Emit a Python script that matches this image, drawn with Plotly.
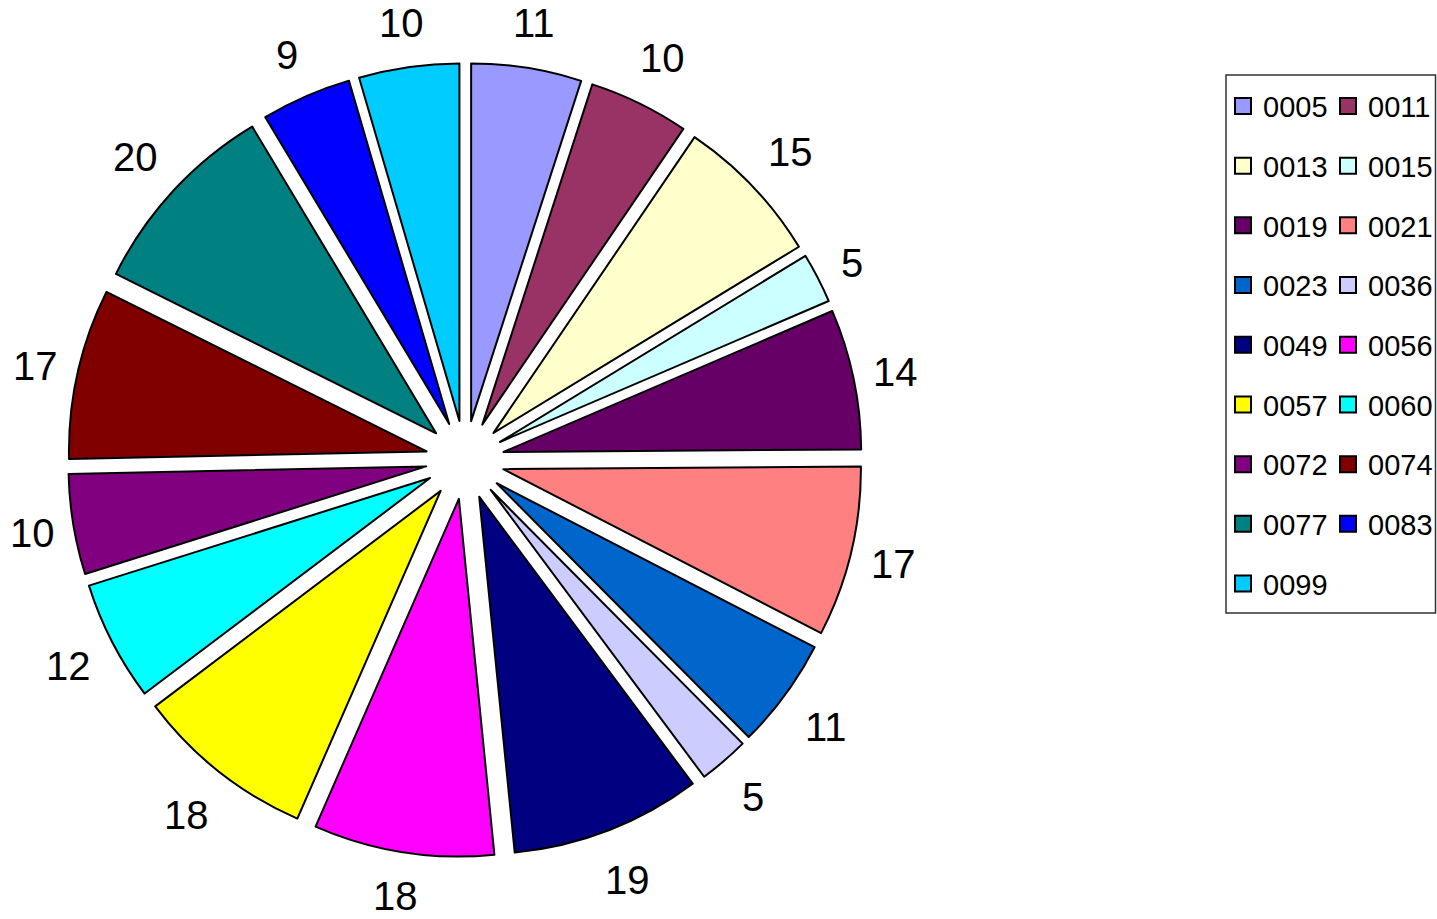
import math
import plotly.graph_objects as go

categories = ["0005", "0011", "0013", "0015", "0019", "0021", "0023", "0036", "0049",
              "0056", "0057", "0060", "0072", "0074", "0077", "0083", "0099"]
values = [11, 10, 15, 5, 14, 17, 11, 5, 19, 18, 18, 12, 10, 17, 20, 9, 10]
colors = ["#9999FF", "#993366", "#FFFFCC", "#CCFFFF", "#660066", "#FF8080", "#0066CC",
          "#CCCCFF", "#000080", "#FF00FF", "#FFFF00", "#00FFFF", "#800080", "#800000",
          "#008080", "#0000FF", "#00CCFF"]

W, H = 1437, 919
FONT = "Liberation Sans, Arial, sans-serif"
LABEL_SIZE = 40

# pie geometry (pixels)
CX, CY = 465, 460
RTOT = 397          # outer radius including pull
PULL = 0.11

fig = go.Figure()
fig.add_trace(go.Pie(
    labels=categories, values=values, sort=False, direction="clockwise", rotation=0,
    marker=dict(colors=colors, line=dict(color="black", width=2)),
    pull=PULL, textinfo="none",
    showlegend=False, hoverinfo="label+value",
    domain=dict(x=[(CX - RTOT) / W, (CX + RTOT) / W],
                y=[1 - (CY + RTOT) / H, 1 - (CY - RTOT) / H]),
))

# outside value labels on each slice's mid-angle, text box kept clear of the slice
total = sum(values)
cum = 0
annotations = []
half_h = 0.575 * LABEL_SIZE
for v in values:
    mid = (cum + v / 2) / total * 2 * math.pi
    cum += v
    s, c = math.sin(mid), math.cos(mid)
    nd = len(str(v))
    dist = 409 + 12.2 * nd * abs(s) + 33 * abs(c)
    px = CX + dist * s
    py = CY - dist * c + 2
    half_w = 0.556 * LABEL_SIZE * nd / 2
    px = min(max(px, half_w + 1), W - half_w - 1)
    py = min(max(py, half_h), H - half_h)
    annotations.append(dict(
        x=px / W, y=1 - py / H, xref="paper", yref="paper", text=str(v),
        showarrow=False, xanchor="center", yanchor="middle",
        font=dict(size=LABEL_SIZE, color="black", family=FONT)))

# legend entries (two columns, row-major order)
for i, (cat, col) in enumerate(zip(categories, colors)):
    fig.add_trace(go.Scatter(
        x=[None], y=[None], mode="markers", name=cat,
        marker=dict(symbol="square", size=17, color=col, line=dict(color="black", width=2)),
        legend="legend" if i % 2 == 0 else "legend2",
        legendgroup=cat, showlegend=True, hoverinfo="skip",
    ))

leg_common = dict(font=dict(size=29, color="black", family=FONT), bgcolor="rgba(0,0,0,0)",
                  borderwidth=0, tracegroupgap=19, yanchor="top", xanchor="left",
                  orientation="v", itemclick=False, itemdoubleclick=False)

fig.update_layout(
    width=W, height=H,
    margin=dict(l=0, r=0, t=0, b=0, autoexpand=False),
    paper_bgcolor="white", plot_bgcolor="white",
    xaxis=dict(visible=False), yaxis=dict(visible=False),
    legend=dict(x=(1243 - 20) / W, y=1 - (107 - 26.4) / H, **leg_common),
    legend2=dict(x=(1348 - 20) / W, y=1 - (107 - 26.4) / H, **leg_common),
    annotations=annotations,
    shapes=[dict(type="rect", xref="paper", yref="paper",
                 x0=1226 / W, x1=1435.5 / W,
                 y0=1 - 613 / H, y1=1 - 75 / H,
                 line=dict(color="#333333", width=1.5), fillcolor="rgba(0,0,0,0)")],
)

fig.write_html("out.html",
               config={"displayModeBar": False},
               post_script="document.body.style.margin='0';"
                           "document.documentElement.style.overflow='hidden';")
